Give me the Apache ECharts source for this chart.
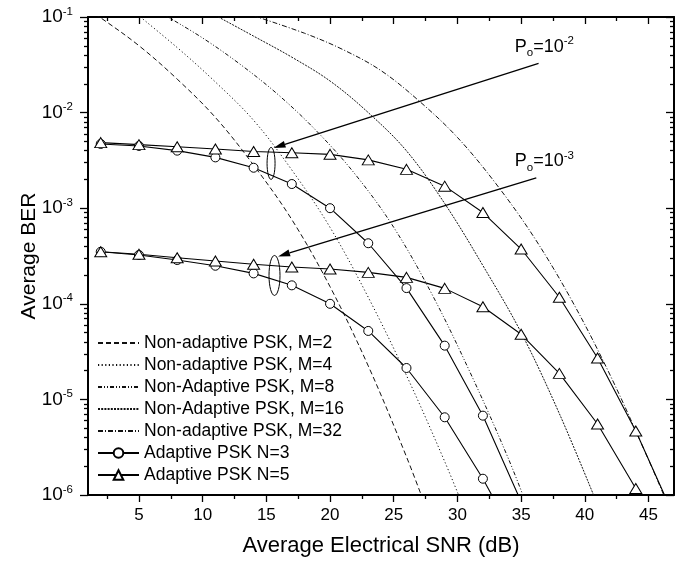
<!DOCTYPE html>
<html>
<head>
<meta charset="utf-8">
<script src="https://cdn.jsdelivr.net/npm/echarts@6/dist/echarts.min.js"></script>
<style>
  html, body { margin: 0; padding: 0; background: #fff; }
  #main { width: 691px; height: 563px; }
</style>
</head>
<body>
<div id="main"></div>
<script>
// non-adaptive PSK curves (SNR in dB, BER)
const snrM2 = [1, 2, 5, 8, 11, 14, 17, 20, 23, 26, 28];
const berM2 = [0.118, 0.098, 0.0501, 0.0224, 8.9e-3, 2.82e-3, 7.6e-4, 1.51e-4, 2.24e-5, 2.51e-6, 5.0e-7];
const snrM4 = [4, 8, 11, 14, 17, 20, 23, 26, 29, 31];
const berM4 = [0.132, 0.0479, 0.0209, 8.3e-3, 2.51e-3, 6.3e-4, 1.17e-4, 1.78e-5, 2.24e-6, 5.0e-7];
const snrM8 = [7, 10, 13, 16, 19, 22, 25, 28, 31, 34, 36];
const berM8 = [0.105, 0.0603, 0.0316, 0.0151, 6.3e-3, 2.24e-3, 6.3e-4, 1.26e-4, 1.91e-5, 2.4e-6, 5.0e-7];
const snrM16 = [11, 14, 17, 20, 23, 26, 29, 32, 35, 38, 41];
const berM16 = [0.104, 0.0631, 0.038, 0.0214, 0.01, 3.98e-3, 1.12e-3, 2.51e-4, 5.0e-5, 7.1e-6, 7.9e-7];
const snrM32 = [14, 18, 21, 24, 27, 30, 33, 36, 39, 42, 45, 47];
const berM32 = [0.103, 0.0676, 0.0457, 0.0275, 0.0132, 5.5e-3, 1.82e-3, 5.0e-4, 1.07e-4, 1.78e-5, 2.34e-6, 5.6e-7];

// adaptive PSK, two outage targets each
const snrN3 = [2, 5, 8, 11, 14, 17, 20, 23, 26, 29, 32, 35];
const berN3Po2 = [4.7e-3, 4.48e-3, 4.0e-3, 3.4e-3, 2.65e-3, 1.79e-3, 1.0e-3, 4.3e-4, 1.46e-4, 3.65e-5, 6.76e-6, 8.5e-7];
const berN3Po3 = [3.5e-4, 3.24e-4, 2.87e-4, 2.5e-4, 2.08e-4, 1.56e-4, 1.0e-4, 5.2e-5, 2.13e-5, 6.5e-6, 1.48e-6, 2.7e-7];
const snrN5 = [2, 5, 8, 11, 14, 17, 20, 23, 26, 29, 32, 35, 38, 41, 44, 47];
const berN5Po2 = [4.85e-3, 4.62e-3, 4.4e-3, 4.16e-3, 3.92e-3, 3.8e-3, 3.66e-3, 3.2e-3, 2.55e-3, 1.7e-3, 9.0e-4, 3.74e-4, 1.17e-4, 2.71e-5, 4.67e-6, 6e-7];
const berN5Po3 = [3.5e-4, 3.3e-4, 3.03e-4, 2.8e-4, 2.59e-4, 2.43e-4, 2.31e-4, 2.13e-4, 1.89e-4, 1.45e-4, 9.33e-5, 4.8e-5, 1.87e-5, 5.53e-6, 1.17e-6, 2.5e-7];

const xMajor = [5, 10, 15, 20, 25, 30, 35, 40, 45];
const xMinor = [2.5, 7.5, 12.5, 17.5, 22.5, 27.5, 32.5, 37.5, 42.5];
const yMajor = [1e-6, 1e-5, 1e-4, 1e-3, 1e-2, 1e-1];
const yMinor = [];
yMajor.slice(0, -1).forEach((d) => {
  for (let k = 2; k <= 9; k++) yMinor.push(+(k * d).toPrecision(3));
});

// annotations: [snr, ber] anchors
const poLabels = ['{p|P}{sub|o}{p|=10}{sup|-2}', '{p|P}{sub|o}{p|=10}{sup|-3}'];
const poLabelAt = [[34.5, 0.049], [34.5, 3.12e-3]];
const arrowFrom = [[36.37, 0.0328], [36.19, 2.08e-3]];
const arrowTo = [[15.56, 4.27e-3], [15.92, 3.13e-4]];
const ellipseAt = [[15.37, 2.94e-3], [15.64, 1.98e-4]];

const FONT = 'Liberation Sans, Arial, sans-serif';
const zip = (xs, ys) => xs.map((x, i) => [x, ys[i]]);

const chart = echarts.init(document.getElementById('main'));

const theory = (name, xs, ys, dash) => ({
  name,
  type: 'line',
  data: zip(xs, ys),
  smooth: 0.35,
  symbol: 'none',
  clip: true,
  lineStyle: { color: '#111', width: 1, type: dash },
  itemStyle: { color: '#111' },
  silent: true,
});
const adaptive = (name, xs, ys, sym, size) => ({
  name,
  type: 'line',
  data: zip(xs, ys),
  symbol: sym,
  symbolSize: size,
  showAllSymbol: true,
  clip: true,
  lineStyle: { color: '#000', width: 1.1 },
  itemStyle: { color: '#fff', borderColor: '#000', borderWidth: 1 },
  silent: true,
});

const frameLine = { show: true, onZero: false, lineStyle: { color: '#000', width: 2 } };
const tickStyle = { color: '#000', width: 1.3 };

const xBase = { type: 'value', gridIndex: 0, min: 1, max: 47, splitLine: { show: false } };
const yBase = { type: 'log', logBase: 10, gridIndex: 0, min: 1e-6, max: 1e-1, splitLine: { show: false } };

const noMark = { opacity: 0, color: 'transparent', borderWidth: 0 };

chart.setOption({
  animation: false,
  grid: { left: 88, top: 17, right: 17, bottom: 68, containLabel: false },
  legend: {
    orient: 'vertical',
    left: 97,
    top: 334,
    padding: 0,
    itemWidth: 41,
    itemHeight: 12,
    itemGap: 4,
    textStyle: { fontSize: 17.5, color: '#000', fontFamily: FONT, lineHeight: 17 },
    data: [
      { name: 'Non-adaptive PSK, M=2', itemStyle: noMark },
      { name: 'Non-adaptive PSK, M=4', itemStyle: noMark },
      { name: 'Non-Adaptive PSK, M=8', itemStyle: noMark },
      { name: 'Non-Adaptive PSK, M=16', itemStyle: noMark },
      { name: 'Non-adaptive PSK, M=32', itemStyle: noMark },
      'Adaptive PSK N=3',
      'Adaptive PSK N=5',
    ],
  },
  xAxis: [
    Object.assign({}, xBase, {
      position: 'bottom',
      axisLine: frameLine,
      axisTick: { show: true, inside: false, length: 7, customValues: xMajor, lineStyle: tickStyle },
      axisLabel: { customValues: xMajor, fontSize: 17, color: '#000', fontFamily: FONT, margin: 12 },
      name: 'Average Electrical SNR (dB)',
      nameLocation: 'middle',
      nameGap: 40,
      nameMoveOverlap: false,
      nameTextStyle: { fontSize: 22, color: '#000', fontFamily: FONT },
    }),
    Object.assign({}, xBase, {
      position: 'bottom',
      axisLine: { show: false },
      axisTick: { show: true, inside: false, length: 4, customValues: xMinor, lineStyle: tickStyle },
      axisLabel: { show: false },
    }),
    Object.assign({}, xBase, {
      position: 'top',
      axisLine: frameLine,
      axisTick: { show: true, inside: true, length: 7, customValues: xMajor, lineStyle: tickStyle },
      axisLabel: { show: false },
    }),
    Object.assign({}, xBase, {
      position: 'top',
      axisLine: { show: false },
      axisTick: { show: true, inside: true, length: 4, customValues: xMinor, lineStyle: tickStyle },
      axisLabel: { show: false },
    }),
  ],
  yAxis: [
    Object.assign({}, yBase, {
      position: 'left',
      axisLine: frameLine,
      axisTick: { show: true, inside: false, length: 8, customValues: yMajor, lineStyle: tickStyle },
      axisLabel: {
        customValues: yMajor,
        margin: 15,
        color: '#000',
        fontFamily: FONT,
        formatter: (v) => '{b|10}{s|' + Math.round(Math.log10(v)) + '}',
        rich: {
          b: { fontSize: 19, fontFamily: FONT, color: '#000' },
          s: { fontSize: 11.5, fontFamily: FONT, color: '#000', padding: [0, 0, 11, 0] },
        },
      },
      name: 'Average BER',
      nameLocation: 'middle',
      nameGap: 48,
      nameMoveOverlap: false,
      nameTextStyle: { fontSize: 21, color: '#000', fontFamily: FONT },
    }),
    Object.assign({}, yBase, {
      position: 'left',
      axisLine: { show: false },
      axisTick: { show: true, inside: false, length: 4, customValues: yMinor, lineStyle: tickStyle },
      axisLabel: { show: false },
    }),
    Object.assign({}, yBase, {
      position: 'right',
      axisLine: frameLine,
      axisTick: { show: true, inside: true, length: 8, customValues: yMajor, lineStyle: tickStyle },
      axisLabel: { show: false },
    }),
    Object.assign({}, yBase, {
      position: 'right',
      axisLine: { show: false },
      axisTick: { show: true, inside: true, length: 4, customValues: yMinor, lineStyle: tickStyle },
      axisLabel: { show: false },
    }),
  ],
  series: [
    theory('Non-adaptive PSK, M=2', snrM2, berM2, [5, 3]),
    theory('Non-adaptive PSK, M=4', snrM4, berM4, [1.2, 2.4]),
    theory('Non-Adaptive PSK, M=8', snrM8, berM8, [4, 2, 1, 2, 1, 2]),
    theory('Non-Adaptive PSK, M=16', snrM16, berM16, [2, 1.2]),
    theory('Non-adaptive PSK, M=32', snrM32, berM32, [5, 2, 1, 2]),
    adaptive('Adaptive PSK N=3', snrN3, berN3Po2, 'circle', 9),
    adaptive('Adaptive PSK N=3', snrN3, berN3Po3, 'circle', 9),
    adaptive('Adaptive PSK N=5', snrN5, berN5Po2, 'triangle', [12, 10]),
    adaptive('Adaptive PSK N=5', snrN5, berN5Po3, 'triangle', [12, 10]),
  ],
});

// arrows, ellipses and P_o labels, placed from data anchors
const toPx = (p) => chart.convertToPixel({ seriesIndex: 0 }, p);
const graphics = [];
const ellipseR = [[4, 16], [5.5, 20]];
for (let i = 0; i < 2; i++) {
  const s = toPx(arrowFrom[i]);
  const t = toPx(arrowTo[i]);
  const dx = t[0] - s[0], dy = t[1] - s[1];
  const len = Math.hypot(dx, dy);
  const ux = dx / len, uy = dy / len;
  const head = 12, half = 3.5;
  const bx = t[0] - ux * head, by = t[1] - uy * head;
  graphics.push({
    type: 'line', silent: true,
    shape: { x1: s[0], y1: s[1], x2: bx, y2: by },
    style: { stroke: '#000', lineWidth: 1.3 },
  });
  graphics.push({
    type: 'polygon', silent: true,
    shape: { points: [t, [bx - uy * half, by + ux * half], [bx + uy * half, by - ux * half]] },
    style: { fill: '#000' },
  });
  const c = toPx(ellipseAt[i]);
  graphics.push({
    type: 'ellipse', silent: true,
    shape: { cx: c[0], cy: c[1], rx: ellipseR[i][0], ry: ellipseR[i][1] },
    style: { fill: 'none', stroke: '#000', lineWidth: 1 },
  });
  const l = toPx(poLabelAt[i]);
  graphics.push({
    type: 'text', silent: true,
    x: l[0], y: l[1],
    style: {
      text: poLabels[i],
      align: 'left',
      verticalAlign: 'middle',
      fill: '#000',
      rich: {
        p: { fontSize: 18, fontFamily: FONT, fill: '#000' },
        sub: { fontSize: 11.5, fontFamily: FONT, fill: '#000', padding: [13, 0, 0, 0] },
        sup: { fontSize: 11.5, fontFamily: FONT, fill: '#000', padding: [0, 0, 11, 0] },
      },
    },
  });
}
chart.setOption({ graphic: graphics });
</script>
</body>
</html>
